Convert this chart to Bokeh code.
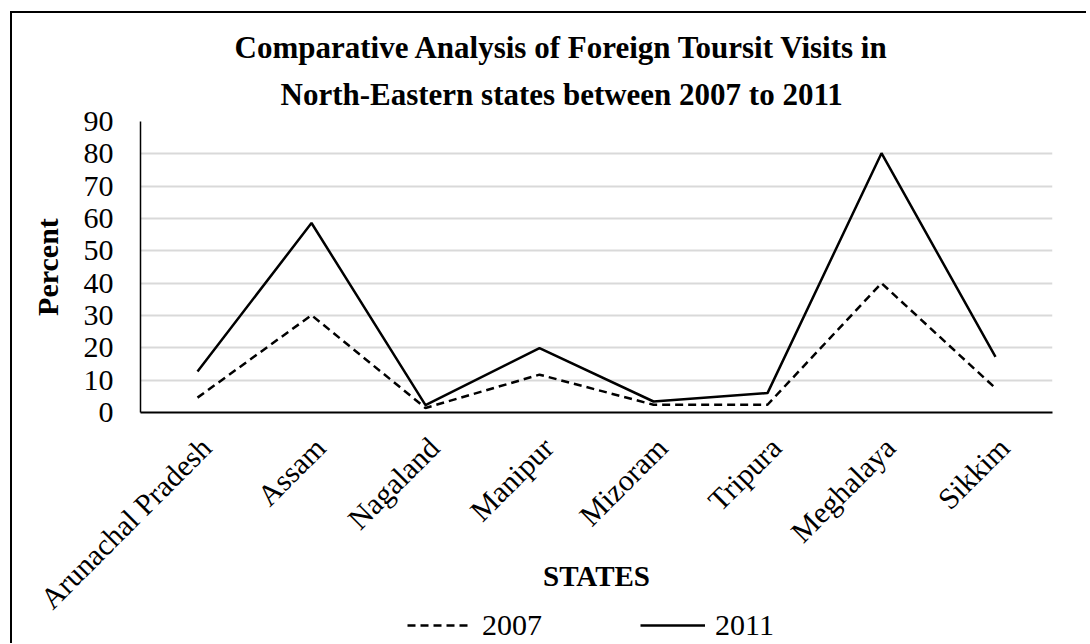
import math
from bokeh.plotting import figure
from bokeh.layouts import column
from bokeh.models import (Range1d, Legend, LegendItem, Title,
                          LinearAxis, FixedTicker, ColumnDataSource)
from bokeh.embed import file_html
from bokeh.resources import INLINE

states = ["Arunachal Pradesh", "Assam", "Nagaland", "Manipur", "Mizoram",
          "Tripura", "Meghalaya", "Sikkim"]
visits_2007 = [4.6, 30.1, 1.4, 11.7, 2.4, 2.4, 40.0, 7.5]
visits_2011 = [12.7, 58.6, 2.3, 19.9, 3.4, 6.0, 80.2, 17.2]
y_ticks = [0, 10, 20, 30, 40, 50, 60, 70, 80, 90]
series_names = ["2007", "2011"]
title_lines = ["Comparative Analysis of Foreign Toursit Visits in",
               "North-Eastern states between 2007 to 2011"]
x_title = "STATES"
y_title = "Percent"

FONT = "Liberation Serif"
n = len(states)
idx = list(range(n))
shift = 0.075  # label anchor offset (fraction of a category) like the Excel layout
DASH = "8 5"

src = ColumnDataSource(dict(state=states, i=idx, v2007=visits_2007, v2011=visits_2011))

p = figure(
    width=1074, height=630,
    x_range=Range1d(-0.5, n - 0.5),
    y_range=Range1d(0, 90),
    x_axis_location=None,
    output_backend="svg", toolbar_location=None,
    min_border_left=128, min_border_right=34, min_border_top=108, min_border_bottom=231,
)
p.title.visible = False

# (text, standoff, left offset) - lowest line first
title_specs = [(title_lines[1], 20, 140), (title_lines[0], 0, 94)]
for line, so, off in title_specs:
    t = Title(text=line, text_font=FONT, text_font_size="31px", text_font_style="bold",
              text_color="black", align="left", offset=off, standoff=so)
    p.add_layout(t, "above")

p.line("i", "v2007", source=src, line_color="black", line_width=2.5, line_dash=DASH)
p.line("i", "v2011", source=src, line_color="black", line_width=2.5)

p.outline_line_color = None
p.background_fill_color = "white"
p.border_fill_color = "white"

# category label axis (labels anchored slightly right of each category centre)
p.extra_x_ranges = {"lab": Range1d(-0.5 - shift, n - 0.5 - shift)}
xax = LinearAxis(x_range_name="lab", ticker=FixedTicker(ticks=idx),
                 major_label_overrides={i: s for i, s in zip(idx, states)})
p.add_layout(xax, "below")

p.xgrid.grid_line_color = None
p.ygrid.grid_line_color = "#d9d9d9"
p.ygrid.grid_line_width = 2
p.yaxis.ticker = y_ticks

for ax in (xax, p.yaxis[0]):
    ax.major_tick_line_color = None
    ax.minor_tick_line_color = None
    ax.major_tick_out = 0
    ax.major_tick_in = 0
    ax.minor_tick_out = 0
    ax.major_label_text_font = FONT
    ax.major_label_text_font_size = "30px"
    ax.major_label_text_color = "black"
    ax.axis_label_text_font = FONT
    ax.axis_label_text_font_size = "30px"
    ax.axis_label_text_font_style = "bold"
    ax.axis_label_text_color = "black"
    ax.axis_line_color = "black"

xax.axis_line_width = 2
p.yaxis.axis_line_width = 1.5
p.yaxis.axis_label = y_title
p.yaxis.major_label_standoff = 27
p.yaxis.axis_label_standoff = 17
xax.major_label_orientation = math.pi / 4
xax.major_label_standoff = 30
xax.axis_label = x_title
xax.axis_label_text_font_size = "29px"
xax.axis_label_standoff = -70

# legend strip, overlapping the bottom of the chart area
# (its own ranges keep the series out of view; only the legend samples show)
p2 = figure(width=1074, height=50, x_range=Range1d(0, 1), y_range=Range1d(-2, -1),
            x_axis_location=None, y_axis_location=None, min_border=0,
            output_backend="svg", toolbar_location=None)
p2.title.visible = False
p2.grid.visible = False
p2.outline_line_color = None
p2.background_fill_alpha = 0
p2.border_fill_alpha = 0
p2.styles = {"margin-top": "-50px"}
k07 = p2.line("i", "v2007", source=src, line_color="black", line_width=2.5, line_dash=DASH)
k11 = p2.line("i", "v2011", source=src, line_color="black", line_width=2.5)

legend = Legend(
    items=[LegendItem(label=series_names[0], renderers=[k07]),
           LegendItem(label=series_names[1], renderers=[k11])],
    orientation="horizontal", location=(267, 1),
    glyph_width=65, glyph_height=20, label_standoff=10, spacing=98,
    label_text_font=FONT, label_text_font_size="30px", label_text_color="black",
    border_line_color=None, background_fill_alpha=0, padding=2, margin=0,
)
p2.add_layout(legend, "center")

layout = column(p, p2, spacing=0,
                styles={"border-left": "2px solid black", "border-top": "2px solid black",
                        "margin-left": "10px", "margin-top": "11px"})

open("out.html", "w").write(file_html(layout, INLINE))
